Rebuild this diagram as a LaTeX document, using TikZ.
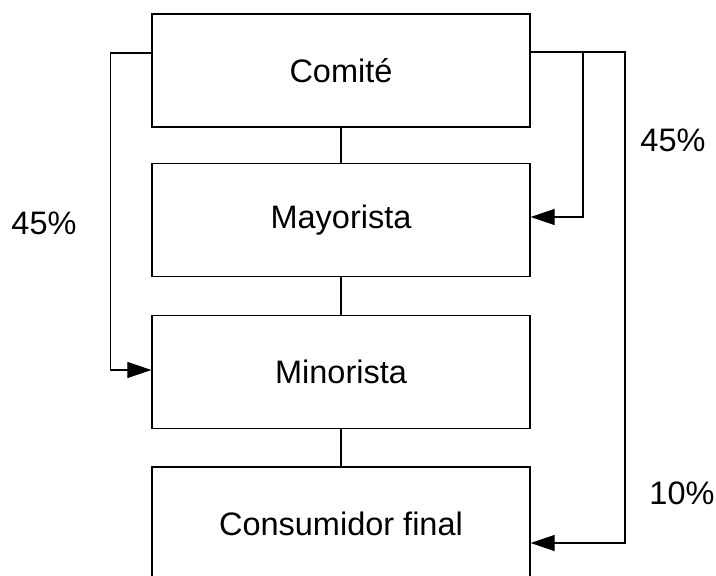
\documentclass[tikz,border=0pt]{standalone}
\usepackage{fontspec}
\setmainfont{Liberation Sans}
\usetikzlibrary{arrows.meta}
\begin{document}
\begin{tikzpicture}[x=1pt,y=-1pt,
  box/.style={draw,line width=1.3pt,minimum width=378pt,minimum height=113pt,inner sep=0pt,font=\fontsize{32.5}{38}\selectfont},
  conn/.style={line width=1.1pt},
  arr/.style={conn,-{Triangle[length=24pt,width=16pt]}},
  lbl/.style={font=\fontsize{32.5}{38}\selectfont}]
\useasboundingbox (0,0) rectangle (716,576);
\node[box] (com) at (341,70.5) {Comité};
\node[box] (may) at (341,220) {Mayorista};
\node[box] (min) at (341,372) {Minorista};
\node[box] (con) at (341,523.5) {Consumidor final};
\coordinate (l1) at (110.5,53);
\coordinate (l2) at (110.5,370);
\coordinate (r1) at (583,52);
\coordinate (r2) at (583,217);
\coordinate (q1) at (625,52);
\coordinate (q2) at (625,543);
\draw[conn] (com.south) -- (may.north);
\draw[conn] (may.south) -- (min.north);
\draw[conn] (min.south) -- (con.north);
\draw[arr] (com.west |- l1) -- (l1) -- (l2) -- (min.west |- l2);
\draw[arr] (com.east |- r1) -- (r1) -- (r2) -- (may.east |- r2);
\draw[arr] (r1) -- (q1) -- (q2) -- (con.east |- q2);
\node[lbl] (p1) at (44,223) {45\%};
\node[lbl] (p2) at (673,140) {45\%};
\node[lbl] (p3) at (682,493) {10\%};
\end{tikzpicture}
\end{document}
